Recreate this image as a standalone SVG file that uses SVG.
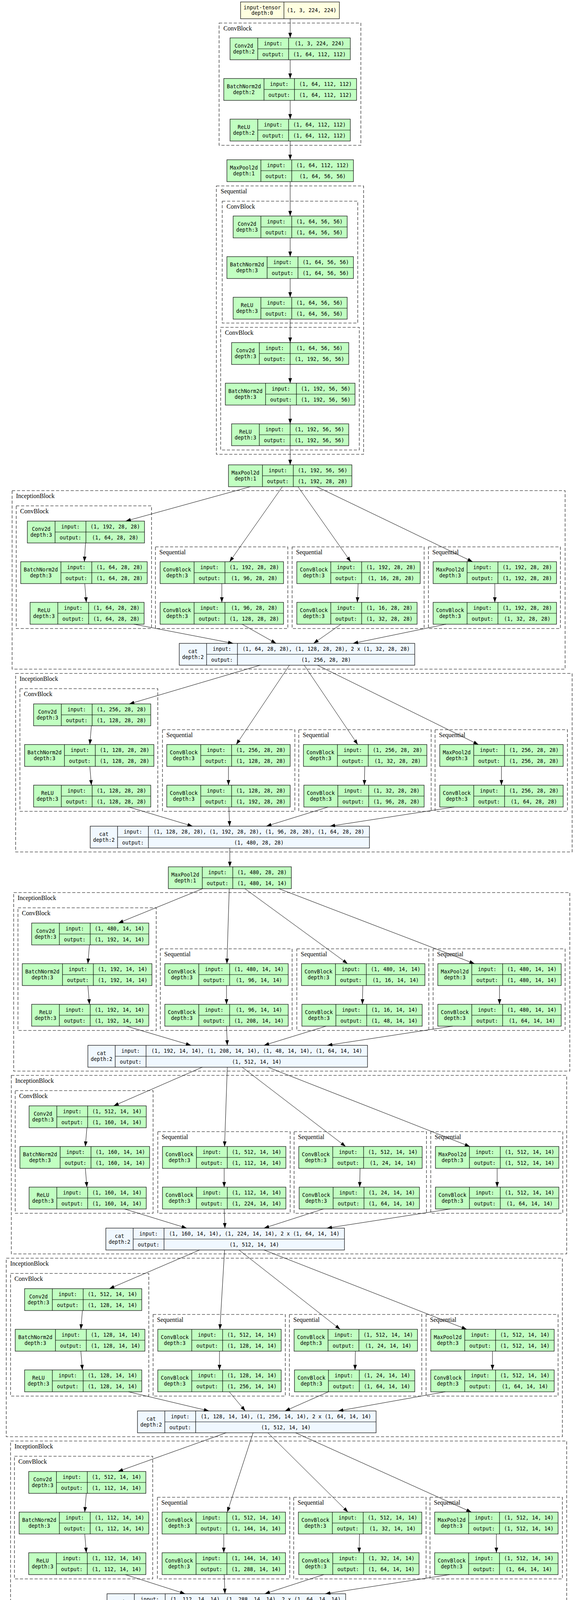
<svg xmlns="http://www.w3.org/2000/svg" width="1480" height="6145" viewBox="0 0 1480 6145">
<style>
.n rect{stroke:#000;stroke-width:1.2}
.n path{fill:none;stroke:#000;stroke-width:1.2}
.g{fill:#c1ffc1}.b{fill:#f0f8ff}.y{fill:#ffffe0}
text{font-family:"DejaVu Sans Mono","Liberation Mono",monospace;font-size:13.2px;text-anchor:middle;fill:#000}
.cl rect{fill:none;stroke:#000;stroke-width:1.1;stroke-dasharray:8 4.5}
.cl text{font-family:"Liberation Serif","Times New Roman",serif;font-size:16px;text-anchor:start}
#edges path{fill:none;stroke:#000;stroke-width:1;marker-end:url(#a)}
</style>
<defs><marker id="a" markerWidth="14" markerHeight="10" refX="13" refY="4.6" orient="auto" markerUnits="userSpaceOnUse"><path d="M0,0L13,4.6L0,9.2z" fill="#000"/></marker></defs>
<rect width="1480" height="6145" fill="#fff"/>
<g id="clusters" class="cl">
<rect x="561" y="59" width="363" height="313"/><text x="572" y="77.5">ConvBlock</text>
<rect x="554" y="476" width="377" height="687"/><text x="565" y="494.5">Sequential</text>
<rect x="569" y="515" width="347" height="312"/><text x="580" y="533.5">ConvBlock</text>
<rect x="565" y="838" width="355" height="314"/><text x="576" y="856.5">ConvBlock</text>
<rect x="31" y="1256" width="1416" height="457"/><text x="41" y="1274.5">InceptionBlock</text>
<rect x="41.5" y="1295" width="346.5" height="314"/><text x="51.5" y="1313.5">ConvBlock</text>
<rect x="398" y="1400" width="339" height="209"/><text x="408" y="1418.5">Sequential</text>
<rect x="748" y="1400" width="338" height="209"/><text x="758" y="1418.5">Sequential</text>
<rect x="1097" y="1400" width="338" height="209"/><text x="1107" y="1418.5">Sequential</text>
<rect x="40" y="1724" width="1425" height="457"/><text x="50" y="1742.5">InceptionBlock</text>
<rect x="51" y="1763" width="353" height="314"/><text x="61" y="1781.5">ConvBlock</text>
<rect x="416" y="1868" width="339" height="209"/><text x="426" y="1886.5">Sequential</text>
<rect x="765" y="1868" width="339" height="209"/><text x="775" y="1886.5">Sequential</text>
<rect x="1114" y="1868" width="339" height="209"/><text x="1124" y="1886.5">Sequential</text>
<rect x="35" y="2285" width="1424" height="457"/><text x="45" y="2303.5">InceptionBlock</text>
<rect x="46" y="2324" width="354" height="314"/><text x="56" y="2342.5">ConvBlock</text>
<rect x="410.5" y="2429" width="337.5" height="209"/><text x="420.5" y="2447.5">Sequential</text>
<rect x="760" y="2429" width="338" height="209"/><text x="770" y="2447.5">Sequential</text>
<rect x="1109" y="2429" width="338" height="209"/><text x="1119" y="2447.5">Sequential</text>
<rect x="29" y="2753" width="1422" height="457"/><text x="39" y="2771.5">InceptionBlock</text>
<rect x="39" y="2792" width="353" height="314"/><text x="49" y="2810.5">ConvBlock</text>
<rect x="404" y="2897" width="339" height="209"/><text x="414" y="2915.5">Sequential</text>
<rect x="753" y="2897" width="339" height="209"/><text x="763" y="2915.5">Sequential</text>
<rect x="1103" y="2897" width="338" height="209"/><text x="1113" y="2915.5">Sequential</text>
<rect x="16" y="3221" width="1424" height="457"/><text x="26" y="3239.5">InceptionBlock</text>
<rect x="27" y="3260" width="354" height="314"/><text x="37" y="3278.5">ConvBlock</text>
<rect x="392" y="3365" width="338.5" height="209"/><text x="402" y="3383.5">Sequential</text>
<rect x="741" y="3365" width="339" height="209"/><text x="751" y="3383.5">Sequential</text>
<rect x="1091" y="3365" width="338" height="209"/><text x="1101" y="3383.5">Sequential</text>
<rect x="27" y="3689" width="1424" height="457"/><text x="37" y="3707.5">InceptionBlock</text>
<rect x="37" y="3728" width="354" height="314"/><text x="47" y="3746.5">ConvBlock</text>
<rect x="403" y="3833" width="339" height="209"/><text x="413" y="3851.5">Sequential</text>
<rect x="752" y="3833" width="339" height="209"/><text x="762" y="3851.5">Sequential</text>
<rect x="1101" y="3833" width="339" height="209"/><text x="1111" y="3851.5">Sequential</text>
<rect x="20" y="4157" width="1424" height="457"/><text x="30" y="4175.5">InceptionBlock</text>
<rect x="31" y="4196" width="354" height="314"/><text x="41" y="4214.5">ConvBlock</text>
<rect x="396" y="4301" width="339" height="209"/><text x="406" y="4319.5">Sequential</text>
<rect x="745.5" y="4301" width="338.5" height="209"/><text x="755.5" y="4319.5">Sequential</text>
<rect x="1095" y="4301" width="338" height="209"/><text x="1105" y="4319.5">Sequential</text>
<rect x="32" y="4718" width="1359" height="457"/><text x="42" y="4736.5">InceptionBlock</text>
<rect x="42.5" y="4757" width="338.5" height="314"/><text x="52.5" y="4775.5">ConvBlock</text>
<rect x="392" y="4862" width="322.5" height="209"/><text x="402" y="4880.5">Sequential</text>
<rect x="725" y="4862" width="323" height="209"/><text x="735" y="4880.5">Sequential</text>
<rect x="1058" y="4862" width="323" height="209"/><text x="1068" y="4880.5">Sequential</text>
<rect x="21.5" y="5186" width="1361.5" height="457"/><text x="31.5" y="5204.5">InceptionBlock</text>
<rect x="34" y="5225" width="338" height="314"/><text x="44" y="5243.5">ConvBlock</text>
<rect x="383" y="5330" width="322" height="209"/><text x="393" y="5348.5">Sequential</text>
<rect x="716" y="5330" width="322" height="209"/><text x="726" y="5348.5">Sequential</text>
<rect x="1049" y="5330" width="322" height="209"/><text x="1059" y="5348.5">Sequential</text>
</g>
<g id="nodes">
<g id="input_tensor" class="n"><rect class="y" x="616" y="5" width="253" height="43"/><path d="M727 5v43"/><text x="671.5" y="23.5">input-tensor</text><text x="671.5" y="37.5">depth:0</text><text x="798" y="31">(1, 3, 224, 224)</text></g>
<g id="stem_conv1" class="n"><rect class="g" x="589" y="97" width="308" height="56"/><path d="M660 97v56M739 97v56M660 125H897"/><text x="624.5" y="121.5">Conv2d</text><text x="624.5" y="136.5">depth:2</text><text x="699.5" y="115.5">input:</text><text x="699.5" y="143.5">output:</text><text x="818" y="115.5">(1, 3, 224, 224)</text><text x="818" y="143.5">(1, 64, 112, 112)</text></g>
<g id="stem_bn1" class="n"><rect class="g" x="573" y="201" width="340" height="56"/><path d="M676 201v56M754 201v56M676 229H913"/><text x="624.5" y="225.5">BatchNorm2d</text><text x="624.5" y="240.5">depth:2</text><text x="715" y="219.5">input:</text><text x="715" y="247.5">output:</text><text x="833.5" y="219.5">(1, 64, 112, 112)</text><text x="833.5" y="247.5">(1, 64, 112, 112)</text></g>
<g id="stem_relu1" class="n"><rect class="g" x="589" y="305" width="308" height="56"/><path d="M660 305v56M739 305v56M660 333H897"/><text x="624.5" y="329.5">ReLU</text><text x="624.5" y="344.5">depth:2</text><text x="699.5" y="323.5">input:</text><text x="699.5" y="351.5">output:</text><text x="818" y="323.5">(1, 64, 112, 112)</text><text x="818" y="351.5">(1, 64, 112, 112)</text></g>
<g id="stem_pool1" class="n"><rect class="g" x="581" y="409" width="324" height="56"/><path d="M668 409v56M747 409v56M668 437H905"/><text x="624.5" y="433.5">MaxPool2d</text><text x="624.5" y="448.5">depth:1</text><text x="707.5" y="427.5">input:</text><text x="707.5" y="455.5">output:</text><text x="826" y="427.5">(1, 64, 112, 112)</text><text x="826" y="455.5">(1, 64, 56, 56)</text></g>
<g id="stem_conv2" class="n"><rect class="g" x="597" y="553" width="292" height="56"/><path d="M668 553v56M747 553v56M668 581H889"/><text x="632.5" y="577.5">Conv2d</text><text x="632.5" y="592.5">depth:3</text><text x="707.5" y="571.5">input:</text><text x="707.5" y="599.5">output:</text><text x="818" y="571.5">(1, 64, 56, 56)</text><text x="818" y="599.5">(1, 64, 56, 56)</text></g>
<g id="stem_bn2" class="n"><rect class="g" x="581" y="657" width="324" height="56"/><path d="M684 657v56M763 657v56M684 685H905"/><text x="632.5" y="681.5">BatchNorm2d</text><text x="632.5" y="696.5">depth:3</text><text x="723.5" y="675.5">input:</text><text x="723.5" y="703.5">output:</text><text x="834" y="675.5">(1, 64, 56, 56)</text><text x="834" y="703.5">(1, 64, 56, 56)</text></g>
<g id="stem_relu2" class="n"><rect class="g" x="597" y="761" width="292" height="56"/><path d="M668 761v56M747 761v56M668 789H889"/><text x="632.5" y="785.5">ReLU</text><text x="632.5" y="800.5">depth:3</text><text x="707.5" y="779.5">input:</text><text x="707.5" y="807.5">output:</text><text x="818" y="779.5">(1, 64, 56, 56)</text><text x="818" y="807.5">(1, 64, 56, 56)</text></g>
<g id="stem_conv3" class="n"><rect class="g" x="593" y="877" width="300" height="56"/><path d="M664 877v56M743 877v56M664 905H893"/><text x="628.5" y="901.5">Conv2d</text><text x="628.5" y="916.5">depth:3</text><text x="703.5" y="895.5">input:</text><text x="703.5" y="923.5">output:</text><text x="818" y="895.5">(1, 64, 56, 56)</text><text x="818" y="923.5">(1, 192, 56, 56)</text></g>
<g id="stem_bn3" class="n"><rect class="g" x="577" y="981" width="332" height="56"/><path d="M680 981v56M759 981v56M680 1009H909"/><text x="628.5" y="1005.5">BatchNorm2d</text><text x="628.5" y="1020.5">depth:3</text><text x="719.5" y="999.5">input:</text><text x="719.5" y="1027.5">output:</text><text x="834" y="999.5">(1, 192, 56, 56)</text><text x="834" y="1027.5">(1, 192, 56, 56)</text></g>
<g id="stem_relu3" class="n"><rect class="g" x="593" y="1085" width="300" height="56"/><path d="M664 1085v56M743 1085v56M664 1113H893"/><text x="628.5" y="1109.5">ReLU</text><text x="628.5" y="1124.5">depth:3</text><text x="703.5" y="1103.5">input:</text><text x="703.5" y="1131.5">output:</text><text x="818" y="1103.5">(1, 192, 56, 56)</text><text x="818" y="1131.5">(1, 192, 56, 56)</text></g>
<g id="stem_pool2" class="n"><rect class="g" x="585" y="1190" width="316" height="56"/><path d="M672 1190v56M751 1190v56M672 1218H901"/><text x="628.5" y="1214.5">MaxPool2d</text><text x="628.5" y="1229.5">depth:1</text><text x="711.5" y="1208.5">input:</text><text x="711.5" y="1236.5">output:</text><text x="826" y="1208.5">(1, 192, 56, 56)</text><text x="826" y="1236.5">(1, 192, 28, 28)</text></g>

<g id="i3a_conv" class="n"><rect class="g" x="70" y="1334" width="300" height="56"/><path d="M141 1334v56M220 1334v56M141 1362H370"/><text x="105.5" y="1358.5">Conv2d</text><text x="105.5" y="1373.5">depth:3</text><text x="180.5" y="1352.5">input:</text><text x="180.5" y="1380.5">output:</text><text x="295" y="1352.5">(1, 192, 28, 28)</text><text x="295" y="1380.5">(1, 64, 28, 28)</text></g>
<g id="i3a_bn" class="n"><rect class="g" x="53" y="1438" width="324" height="56"/><path d="M156 1438v56M235 1438v56M156 1466H377"/><text x="104.5" y="1462.5">BatchNorm2d</text><text x="104.5" y="1477.5">depth:3</text><text x="195.5" y="1456.5">input:</text><text x="195.5" y="1484.5">output:</text><text x="306" y="1456.5">(1, 64, 28, 28)</text><text x="306" y="1484.5">(1, 64, 28, 28)</text></g>
<g id="i3a_relu" class="n"><rect class="g" x="77" y="1542" width="292" height="56"/><path d="M148 1542v56M227 1542v56M148 1570H369"/><text x="112.5" y="1566.5">ReLU</text><text x="112.5" y="1581.5">depth:3</text><text x="187.5" y="1560.5">input:</text><text x="187.5" y="1588.5">output:</text><text x="298" y="1560.5">(1, 64, 28, 28)</text><text x="298" y="1588.5">(1, 64, 28, 28)</text></g>
<g id="i3a_b2a" class="n"><rect class="g" x="410" y="1438" width="316" height="56"/><path d="M497 1438v56M576 1438v56M497 1466H726"/><text x="453.5" y="1462.5">ConvBlock</text><text x="453.5" y="1477.5">depth:3</text><text x="536.5" y="1456.5">input:</text><text x="536.5" y="1484.5">output:</text><text x="651" y="1456.5">(1, 192, 28, 28)</text><text x="651" y="1484.5">(1, 96, 28, 28)</text></g>
<g id="i3a_b2b" class="n"><rect class="g" x="410" y="1542" width="316" height="56"/><path d="M497 1542v56M576 1542v56M497 1570H726"/><text x="453.5" y="1566.5">ConvBlock</text><text x="453.5" y="1581.5">depth:3</text><text x="536.5" y="1560.5">input:</text><text x="536.5" y="1588.5">output:</text><text x="651" y="1560.5">(1, 96, 28, 28)</text><text x="651" y="1588.5">(1, 128, 28, 28)</text></g>
<g id="i3a_b3a" class="n"><rect class="g" x="760" y="1438" width="316" height="56"/><path d="M847 1438v56M926 1438v56M847 1466H1076"/><text x="803.5" y="1462.5">ConvBlock</text><text x="803.5" y="1477.5">depth:3</text><text x="886.5" y="1456.5">input:</text><text x="886.5" y="1484.5">output:</text><text x="1001" y="1456.5">(1, 192, 28, 28)</text><text x="1001" y="1484.5">(1, 16, 28, 28)</text></g>
<g id="i3a_b3b" class="n"><rect class="g" x="760" y="1542" width="308" height="56"/><path d="M847 1542v56M926 1542v56M847 1570H1068"/><text x="803.5" y="1566.5">ConvBlock</text><text x="803.5" y="1581.5">depth:3</text><text x="886.5" y="1560.5">input:</text><text x="886.5" y="1588.5">output:</text><text x="997" y="1560.5">(1, 16, 28, 28)</text><text x="997" y="1588.5">(1, 32, 28, 28)</text></g>
<g id="i3a_b4a" class="n"><rect class="g" x="1109" y="1438" width="316" height="56"/><path d="M1196 1438v56M1275 1438v56M1196 1466H1425"/><text x="1152.5" y="1462.5">MaxPool2d</text><text x="1152.5" y="1477.5">depth:3</text><text x="1235.5" y="1456.5">input:</text><text x="1235.5" y="1484.5">output:</text><text x="1350" y="1456.5">(1, 192, 28, 28)</text><text x="1350" y="1484.5">(1, 192, 28, 28)</text></g>
<g id="i3a_b4b" class="n"><rect class="g" x="1109" y="1542" width="316" height="56"/><path d="M1196 1542v56M1275 1542v56M1196 1570H1425"/><text x="1152.5" y="1566.5">ConvBlock</text><text x="1152.5" y="1581.5">depth:3</text><text x="1235.5" y="1560.5">input:</text><text x="1235.5" y="1588.5">output:</text><text x="1350" y="1560.5">(1, 192, 28, 28)</text><text x="1350" y="1588.5">(1, 32, 28, 28)</text></g>
<g id="i3a_cat" class="n"><rect class="b" x="459" y="1647" width="603" height="56"/><path d="M529 1647v56M608 1647v56M529 1675H1062"/><text x="494" y="1671.5">cat</text><text x="494" y="1686.5">depth:2</text><text x="568.5" y="1665.5">input:</text><text x="568.5" y="1693.5">output:</text><text x="835" y="1665.5">(1, 64, 28, 28), (1, 128, 28, 28), 2 x (1, 32, 28, 28)</text><text x="835" y="1693.5">(1, 256, 28, 28)</text></g>

<g id="i3b_conv" class="n"><rect class="g" x="86" y="1802" width="300" height="56"/><path d="M157 1802v56M236 1802v56M157 1830H386"/><text x="121.5" y="1826.5">Conv2d</text><text x="121.5" y="1841.5">depth:3</text><text x="196.5" y="1820.5">input:</text><text x="196.5" y="1848.5">output:</text><text x="311" y="1820.5">(1, 256, 28, 28)</text><text x="311" y="1848.5">(1, 128, 28, 28)</text></g>
<g id="i3b_bn" class="n"><rect class="g" x="63" y="1906" width="331" height="56"/><path d="M165 1906v56M244 1906v56M165 1934H394"/><text x="114" y="1930.5">BatchNorm2d</text><text x="114" y="1945.5">depth:3</text><text x="204.5" y="1924.5">input:</text><text x="204.5" y="1952.5">output:</text><text x="319" y="1924.5">(1, 128, 28, 28)</text><text x="319" y="1952.5">(1, 128, 28, 28)</text></g>
<g id="i3b_relu" class="n"><rect class="g" x="86" y="2010" width="300" height="56"/><path d="M157 2010v56M236 2010v56M157 2038H386"/><text x="121.5" y="2034.5">ReLU</text><text x="121.5" y="2049.5">depth:3</text><text x="196.5" y="2028.5">input:</text><text x="196.5" y="2056.5">output:</text><text x="311" y="2028.5">(1, 128, 28, 28)</text><text x="311" y="2056.5">(1, 128, 28, 28)</text></g>
<g id="i3b_b2a" class="n"><rect class="g" x="427" y="1906" width="316" height="56"/><path d="M514 1906v56M593 1906v56M514 1934H743"/><text x="470.5" y="1930.5">ConvBlock</text><text x="470.5" y="1945.5">depth:3</text><text x="553.5" y="1924.5">input:</text><text x="553.5" y="1952.5">output:</text><text x="668" y="1924.5">(1, 256, 28, 28)</text><text x="668" y="1952.5">(1, 128, 28, 28)</text></g>
<g id="i3b_b2b" class="n"><rect class="g" x="427" y="2010" width="316" height="56"/><path d="M514 2010v56M593 2010v56M514 2038H743"/><text x="470.5" y="2034.5">ConvBlock</text><text x="470.5" y="2049.5">depth:3</text><text x="553.5" y="2028.5">input:</text><text x="553.5" y="2056.5">output:</text><text x="668" y="2028.5">(1, 128, 28, 28)</text><text x="668" y="2056.5">(1, 192, 28, 28)</text></g>
<g id="i3b_b3a" class="n"><rect class="g" x="777" y="1906" width="316" height="56"/><path d="M864 1906v56M943 1906v56M864 1934H1093"/><text x="820.5" y="1930.5">ConvBlock</text><text x="820.5" y="1945.5">depth:3</text><text x="903.5" y="1924.5">input:</text><text x="903.5" y="1952.5">output:</text><text x="1018" y="1924.5">(1, 256, 28, 28)</text><text x="1018" y="1952.5">(1, 32, 28, 28)</text></g>
<g id="i3b_b3b" class="n"><rect class="g" x="778" y="2010" width="308" height="56"/><path d="M865 2010v56M944 2010v56M865 2038H1086"/><text x="821.5" y="2034.5">ConvBlock</text><text x="821.5" y="2049.5">depth:3</text><text x="904.5" y="2028.5">input:</text><text x="904.5" y="2056.5">output:</text><text x="1015" y="2028.5">(1, 32, 28, 28)</text><text x="1015" y="2056.5">(1, 96, 28, 28)</text></g>
<g id="i3b_b4a" class="n"><rect class="g" x="1126" y="1906" width="316" height="56"/><path d="M1213 1906v56M1292 1906v56M1213 1934H1442"/><text x="1169.5" y="1930.5">MaxPool2d</text><text x="1169.5" y="1945.5">depth:3</text><text x="1252.5" y="1924.5">input:</text><text x="1252.5" y="1952.5">output:</text><text x="1367" y="1924.5">(1, 256, 28, 28)</text><text x="1367" y="1952.5">(1, 256, 28, 28)</text></g>
<g id="i3b_b4b" class="n"><rect class="g" x="1126" y="2010" width="316" height="56"/><path d="M1213 2010v56M1292 2010v56M1213 2038H1442"/><text x="1169.5" y="2034.5">ConvBlock</text><text x="1169.5" y="2049.5">depth:3</text><text x="1252.5" y="2028.5">input:</text><text x="1252.5" y="2056.5">output:</text><text x="1367" y="2028.5">(1, 256, 28, 28)</text><text x="1367" y="2056.5">(1, 64, 28, 28)</text></g>
<g id="i3b_cat" class="n"><rect class="b" x="231" y="2115" width="715" height="56"/><path d="M301 2115v56M380 2115v56M301 2143H946"/><text x="266" y="2139.5">cat</text><text x="266" y="2154.5">depth:2</text><text x="340.5" y="2133.5">input:</text><text x="340.5" y="2161.5">output:</text><text x="663" y="2133.5">(1, 128, 28, 28), (1, 192, 28, 28), (1, 96, 28, 28), (1, 64, 28, 28)</text><text x="663" y="2161.5">(1, 480, 28, 28)</text></g>
<g id="pool3" class="n"><rect class="g" x="431" y="2219" width="315" height="56"/><path d="M518 2219v56M596 2219v56M518 2247H746"/><text x="474.5" y="2243.5">MaxPool2d</text><text x="474.5" y="2258.5">depth:1</text><text x="557" y="2237.5">input:</text><text x="557" y="2265.5">output:</text><text x="671" y="2237.5">(1, 480, 28, 28)</text><text x="671" y="2265.5">(1, 480, 14, 14)</text></g>

<g id="i4a_conv" class="n"><rect class="g" x="81" y="2363" width="300" height="56"/><path d="M152 2363v56M231 2363v56M152 2391H381"/><text x="116.5" y="2387.5">Conv2d</text><text x="116.5" y="2402.5">depth:3</text><text x="191.5" y="2381.5">input:</text><text x="191.5" y="2409.5">output:</text><text x="306" y="2381.5">(1, 480, 14, 14)</text><text x="306" y="2409.5">(1, 192, 14, 14)</text></g>
<g id="i4a_bn" class="n"><rect class="g" x="57" y="2467" width="332" height="56"/><path d="M160 2467v56M239 2467v56M160 2495H389"/><text x="108.5" y="2491.5">BatchNorm2d</text><text x="108.5" y="2506.5">depth:3</text><text x="199.5" y="2485.5">input:</text><text x="199.5" y="2513.5">output:</text><text x="314" y="2485.5">(1, 192, 14, 14)</text><text x="314" y="2513.5">(1, 192, 14, 14)</text></g>
<g id="i4a_relu" class="n"><rect class="g" x="81" y="2571" width="300" height="56"/><path d="M152 2571v56M231 2571v56M152 2599H381"/><text x="116.5" y="2595.5">ReLU</text><text x="116.5" y="2610.5">depth:3</text><text x="191.5" y="2589.5">input:</text><text x="191.5" y="2617.5">output:</text><text x="306" y="2589.5">(1, 192, 14, 14)</text><text x="306" y="2617.5">(1, 192, 14, 14)</text></g>
<g id="i4a_b2a" class="n"><rect class="g" x="422" y="2467" width="316" height="56"/><path d="M509 2467v56M588 2467v56M509 2495H738"/><text x="465.5" y="2491.5">ConvBlock</text><text x="465.5" y="2506.5">depth:3</text><text x="548.5" y="2485.5">input:</text><text x="548.5" y="2513.5">output:</text><text x="663" y="2485.5">(1, 480, 14, 14)</text><text x="663" y="2513.5">(1, 96, 14, 14)</text></g>
<g id="i4a_b2b" class="n"><rect class="g" x="422" y="2571" width="316" height="56"/><path d="M509 2571v56M588 2571v56M509 2599H738"/><text x="465.5" y="2595.5">ConvBlock</text><text x="465.5" y="2610.5">depth:3</text><text x="548.5" y="2589.5">input:</text><text x="548.5" y="2617.5">output:</text><text x="663" y="2589.5">(1, 96, 14, 14)</text><text x="663" y="2617.5">(1, 208, 14, 14)</text></g>
<g id="i4a_b3a" class="n"><rect class="g" x="772" y="2467" width="316" height="56"/><path d="M859 2467v56M938 2467v56M859 2495H1088"/><text x="815.5" y="2491.5">ConvBlock</text><text x="815.5" y="2506.5">depth:3</text><text x="898.5" y="2485.5">input:</text><text x="898.5" y="2513.5">output:</text><text x="1013" y="2485.5">(1, 480, 14, 14)</text><text x="1013" y="2513.5">(1, 16, 14, 14)</text></g>
<g id="i4a_b3b" class="n"><rect class="g" x="773" y="2571" width="308" height="56"/><path d="M860 2571v56M939 2571v56M860 2599H1081"/><text x="816.5" y="2595.5">ConvBlock</text><text x="816.5" y="2610.5">depth:3</text><text x="899.5" y="2589.5">input:</text><text x="899.5" y="2617.5">output:</text><text x="1010" y="2589.5">(1, 16, 14, 14)</text><text x="1010" y="2617.5">(1, 48, 14, 14)</text></g>
<g id="i4a_b4a" class="n"><rect class="g" x="1121" y="2467" width="316" height="56"/><path d="M1208 2467v56M1287 2467v56M1208 2495H1437"/><text x="1164.5" y="2491.5">MaxPool2d</text><text x="1164.5" y="2506.5">depth:3</text><text x="1247.5" y="2485.5">input:</text><text x="1247.5" y="2513.5">output:</text><text x="1362" y="2485.5">(1, 480, 14, 14)</text><text x="1362" y="2513.5">(1, 480, 14, 14)</text></g>
<g id="i4a_b4b" class="n"><rect class="g" x="1121" y="2571" width="316" height="56"/><path d="M1208 2571v56M1287 2571v56M1208 2599H1437"/><text x="1164.5" y="2595.5">ConvBlock</text><text x="1164.5" y="2610.5">depth:3</text><text x="1247.5" y="2589.5">input:</text><text x="1247.5" y="2617.5">output:</text><text x="1362" y="2589.5">(1, 480, 14, 14)</text><text x="1362" y="2617.5">(1, 64, 14, 14)</text></g>
<g id="i4a_cat" class="n"><rect class="b" x="225" y="2676" width="716" height="56"/><path d="M295 2676v56M374 2676v56M295 2704H941"/><text x="260" y="2700.5">cat</text><text x="260" y="2715.5">depth:2</text><text x="334.5" y="2694.5">input:</text><text x="334.5" y="2722.5">output:</text><text x="657.5" y="2694.5">(1, 192, 14, 14), (1, 208, 14, 14), (1, 48, 14, 14), (1, 64, 14, 14)</text><text x="657.5" y="2722.5">(1, 512, 14, 14)</text></g>

<g id="i4b_conv" class="n"><rect class="g" x="74.5" y="2831" width="300" height="56"/><path d="M145.5 2831v56M224.5 2831v56M145.5 2859H374.5"/><text x="110" y="2855.5">Conv2d</text><text x="110" y="2870.5">depth:3</text><text x="185" y="2849.5">input:</text><text x="185" y="2877.5">output:</text><text x="299.5" y="2849.5">(1, 512, 14, 14)</text><text x="299.5" y="2877.5">(1, 160, 14, 14)</text></g>
<g id="i4b_bn" class="n"><rect class="g" x="51" y="2935" width="332" height="56"/><path d="M154 2935v56M233 2935v56M154 2963H383"/><text x="102.5" y="2959.5">BatchNorm2d</text><text x="102.5" y="2974.5">depth:3</text><text x="193.5" y="2953.5">input:</text><text x="193.5" y="2981.5">output:</text><text x="308" y="2953.5">(1, 160, 14, 14)</text><text x="308" y="2981.5">(1, 160, 14, 14)</text></g>
<g id="i4b_relu" class="n"><rect class="g" x="74.5" y="3039" width="300" height="56"/><path d="M145.5 3039v56M224.5 3039v56M145.5 3067H374.5"/><text x="110" y="3063.5">ReLU</text><text x="110" y="3078.5">depth:3</text><text x="185" y="3057.5">input:</text><text x="185" y="3085.5">output:</text><text x="299.5" y="3057.5">(1, 160, 14, 14)</text><text x="299.5" y="3085.5">(1, 160, 14, 14)</text></g>
<g id="i4b_b2a" class="n"><rect class="g" x="416" y="2935" width="316" height="56"/><path d="M503 2935v56M582 2935v56M503 2963H732"/><text x="459.5" y="2959.5">ConvBlock</text><text x="459.5" y="2974.5">depth:3</text><text x="542.5" y="2953.5">input:</text><text x="542.5" y="2981.5">output:</text><text x="657" y="2953.5">(1, 512, 14, 14)</text><text x="657" y="2981.5">(1, 112, 14, 14)</text></g>
<g id="i4b_b2b" class="n"><rect class="g" x="416" y="3039" width="316" height="56"/><path d="M503 3039v56M582 3039v56M503 3067H732"/><text x="459.5" y="3063.5">ConvBlock</text><text x="459.5" y="3078.5">depth:3</text><text x="542.5" y="3057.5">input:</text><text x="542.5" y="3085.5">output:</text><text x="657" y="3057.5">(1, 112, 14, 14)</text><text x="657" y="3085.5">(1, 224, 14, 14)</text></g>
<g id="i4b_b3a" class="n"><rect class="g" x="765" y="2935" width="316" height="56"/><path d="M852 2935v56M931 2935v56M852 2963H1081"/><text x="808.5" y="2959.5">ConvBlock</text><text x="808.5" y="2974.5">depth:3</text><text x="891.5" y="2953.5">input:</text><text x="891.5" y="2981.5">output:</text><text x="1006" y="2953.5">(1, 512, 14, 14)</text><text x="1006" y="2981.5">(1, 24, 14, 14)</text></g>
<g id="i4b_b3b" class="n"><rect class="g" x="766" y="3039" width="308" height="56"/><path d="M853 3039v56M932 3039v56M853 3067H1074"/><text x="809.5" y="3063.5">ConvBlock</text><text x="809.5" y="3078.5">depth:3</text><text x="892.5" y="3057.5">input:</text><text x="892.5" y="3085.5">output:</text><text x="1003" y="3057.5">(1, 24, 14, 14)</text><text x="1003" y="3085.5">(1, 64, 14, 14)</text></g>
<g id="i4b_b4a" class="n"><rect class="g" x="1115" y="2935" width="316" height="56"/><path d="M1202 2935v56M1281 2935v56M1202 2963H1431"/><text x="1158.5" y="2959.5">MaxPool2d</text><text x="1158.5" y="2974.5">depth:3</text><text x="1241.5" y="2953.5">input:</text><text x="1241.5" y="2981.5">output:</text><text x="1356" y="2953.5">(1, 512, 14, 14)</text><text x="1356" y="2981.5">(1, 512, 14, 14)</text></g>
<g id="i4b_b4b" class="n"><rect class="g" x="1115" y="3039" width="316" height="56"/><path d="M1202 3039v56M1281 3039v56M1202 3067H1431"/><text x="1158.5" y="3063.5">ConvBlock</text><text x="1158.5" y="3078.5">depth:3</text><text x="1241.5" y="3057.5">input:</text><text x="1241.5" y="3085.5">output:</text><text x="1356" y="3057.5">(1, 512, 14, 14)</text><text x="1356" y="3085.5">(1, 64, 14, 14)</text></g>
<g id="i4b_cat" class="n"><rect class="b" x="271" y="3144" width="611" height="56"/><path d="M341 3144v56M420 3144v56M341 3172H882"/><text x="306" y="3168.5">cat</text><text x="306" y="3183.5">depth:2</text><text x="380.5" y="3162.5">input:</text><text x="380.5" y="3190.5">output:</text><text x="651" y="3162.5">(1, 160, 14, 14), (1, 224, 14, 14), 2 x (1, 64, 14, 14)</text><text x="651" y="3190.5">(1, 512, 14, 14)</text></g>

<g id="i4c_conv" class="n"><rect class="g" x="63" y="3299" width="300" height="56"/><path d="M134 3299v56M213 3299v56M134 3327H363"/><text x="98.5" y="3323.5">Conv2d</text><text x="98.5" y="3338.5">depth:3</text><text x="173.5" y="3317.5">input:</text><text x="173.5" y="3345.5">output:</text><text x="288" y="3317.5">(1, 512, 14, 14)</text><text x="288" y="3345.5">(1, 128, 14, 14)</text></g>
<g id="i4c_bn" class="n"><rect class="g" x="39" y="3403" width="332" height="56"/><path d="M142 3403v56M221 3403v56M142 3431H371"/><text x="90.5" y="3427.5">BatchNorm2d</text><text x="90.5" y="3442.5">depth:3</text><text x="181.5" y="3421.5">input:</text><text x="181.5" y="3449.5">output:</text><text x="296" y="3421.5">(1, 128, 14, 14)</text><text x="296" y="3449.5">(1, 128, 14, 14)</text></g>
<g id="i4c_relu" class="n"><rect class="g" x="63" y="3507" width="300" height="56"/><path d="M134 3507v56M213 3507v56M134 3535H363"/><text x="98.5" y="3531.5">ReLU</text><text x="98.5" y="3546.5">depth:3</text><text x="173.5" y="3525.5">input:</text><text x="173.5" y="3553.5">output:</text><text x="288" y="3525.5">(1, 128, 14, 14)</text><text x="288" y="3553.5">(1, 128, 14, 14)</text></g>
<g id="i4c_b2a" class="n"><rect class="g" x="404" y="3403" width="316" height="56"/><path d="M491 3403v56M570 3403v56M491 3431H720"/><text x="447.5" y="3427.5">ConvBlock</text><text x="447.5" y="3442.5">depth:3</text><text x="530.5" y="3421.5">input:</text><text x="530.5" y="3449.5">output:</text><text x="645" y="3421.5">(1, 512, 14, 14)</text><text x="645" y="3449.5">(1, 128, 14, 14)</text></g>
<g id="i4c_b2b" class="n"><rect class="g" x="404" y="3507" width="316" height="56"/><path d="M491 3507v56M570 3507v56M491 3535H720"/><text x="447.5" y="3531.5">ConvBlock</text><text x="447.5" y="3546.5">depth:3</text><text x="530.5" y="3525.5">input:</text><text x="530.5" y="3553.5">output:</text><text x="645" y="3525.5">(1, 128, 14, 14)</text><text x="645" y="3553.5">(1, 256, 14, 14)</text></g>
<g id="i4c_b3a" class="n"><rect class="g" x="753" y="3403" width="316" height="56"/><path d="M840 3403v56M919 3403v56M840 3431H1069"/><text x="796.5" y="3427.5">ConvBlock</text><text x="796.5" y="3442.5">depth:3</text><text x="879.5" y="3421.5">input:</text><text x="879.5" y="3449.5">output:</text><text x="994" y="3421.5">(1, 512, 14, 14)</text><text x="994" y="3449.5">(1, 24, 14, 14)</text></g>
<g id="i4c_b3b" class="n"><rect class="g" x="754" y="3507" width="308" height="56"/><path d="M841 3507v56M920 3507v56M841 3535H1062"/><text x="797.5" y="3531.5">ConvBlock</text><text x="797.5" y="3546.5">depth:3</text><text x="880.5" y="3525.5">input:</text><text x="880.5" y="3553.5">output:</text><text x="991" y="3525.5">(1, 24, 14, 14)</text><text x="991" y="3553.5">(1, 64, 14, 14)</text></g>
<g id="i4c_b4a" class="n"><rect class="g" x="1103" y="3403" width="316" height="56"/><path d="M1190 3403v56M1269 3403v56M1190 3431H1419"/><text x="1146.5" y="3427.5">MaxPool2d</text><text x="1146.5" y="3442.5">depth:3</text><text x="1229.5" y="3421.5">input:</text><text x="1229.5" y="3449.5">output:</text><text x="1344" y="3421.5">(1, 512, 14, 14)</text><text x="1344" y="3449.5">(1, 512, 14, 14)</text></g>
<g id="i4c_b4b" class="n"><rect class="g" x="1103" y="3507" width="316" height="56"/><path d="M1190 3507v56M1269 3507v56M1190 3535H1419"/><text x="1146.5" y="3531.5">ConvBlock</text><text x="1146.5" y="3546.5">depth:3</text><text x="1229.5" y="3525.5">input:</text><text x="1229.5" y="3553.5">output:</text><text x="1344" y="3525.5">(1, 512, 14, 14)</text><text x="1344" y="3553.5">(1, 64, 14, 14)</text></g>
<g id="i4c_cat" class="n"><rect class="b" x="352" y="3612" width="611" height="56"/><path d="M422 3612v56M501 3612v56M422 3640H963"/><text x="387" y="3636.5">cat</text><text x="387" y="3651.5">depth:2</text><text x="461.5" y="3630.5">input:</text><text x="461.5" y="3658.5">output:</text><text x="732" y="3630.5">(1, 128, 14, 14), (1, 256, 14, 14), 2 x (1, 64, 14, 14)</text><text x="732" y="3658.5">(1, 512, 14, 14)</text></g>

<g id="i4d_conv" class="n"><rect class="g" x="73.5" y="3767" width="300" height="56"/><path d="M144.5 3767v56M223.5 3767v56M144.5 3795H373.5"/><text x="109" y="3791.5">Conv2d</text><text x="109" y="3806.5">depth:3</text><text x="184" y="3785.5">input:</text><text x="184" y="3813.5">output:</text><text x="298.5" y="3785.5">(1, 512, 14, 14)</text><text x="298.5" y="3813.5">(1, 112, 14, 14)</text></g>
<g id="i4d_bn" class="n"><rect class="g" x="49" y="3871" width="332" height="56"/><path d="M152 3871v56M231 3871v56M152 3899H381"/><text x="100.5" y="3895.5">BatchNorm2d</text><text x="100.5" y="3910.5">depth:3</text><text x="191.5" y="3889.5">input:</text><text x="191.5" y="3917.5">output:</text><text x="306" y="3889.5">(1, 112, 14, 14)</text><text x="306" y="3917.5">(1, 112, 14, 14)</text></g>
<g id="i4d_relu" class="n"><rect class="g" x="73.5" y="3975" width="300" height="56"/><path d="M144.5 3975v56M223.5 3975v56M144.5 4003H373.5"/><text x="109" y="3999.5">ReLU</text><text x="109" y="4014.5">depth:3</text><text x="184" y="3993.5">input:</text><text x="184" y="4021.5">output:</text><text x="298.5" y="3993.5">(1, 112, 14, 14)</text><text x="298.5" y="4021.5">(1, 112, 14, 14)</text></g>
<g id="i4d_b2a" class="n"><rect class="g" x="415" y="3871" width="316" height="56"/><path d="M502 3871v56M581 3871v56M502 3899H731"/><text x="458.5" y="3895.5">ConvBlock</text><text x="458.5" y="3910.5">depth:3</text><text x="541.5" y="3889.5">input:</text><text x="541.5" y="3917.5">output:</text><text x="656" y="3889.5">(1, 512, 14, 14)</text><text x="656" y="3917.5">(1, 144, 14, 14)</text></g>
<g id="i4d_b2b" class="n"><rect class="g" x="415" y="3975" width="316" height="56"/><path d="M502 3975v56M581 3975v56M502 4003H731"/><text x="458.5" y="3999.5">ConvBlock</text><text x="458.5" y="4014.5">depth:3</text><text x="541.5" y="3993.5">input:</text><text x="541.5" y="4021.5">output:</text><text x="656" y="3993.5">(1, 144, 14, 14)</text><text x="656" y="4021.5">(1, 288, 14, 14)</text></g>
<g id="i4d_b3a" class="n"><rect class="g" x="764" y="3871" width="316" height="56"/><path d="M851 3871v56M930 3871v56M851 3899H1080"/><text x="807.5" y="3895.5">ConvBlock</text><text x="807.5" y="3910.5">depth:3</text><text x="890.5" y="3889.5">input:</text><text x="890.5" y="3917.5">output:</text><text x="1005" y="3889.5">(1, 512, 14, 14)</text><text x="1005" y="3917.5">(1, 32, 14, 14)</text></g>
<g id="i4d_b3b" class="n"><rect class="g" x="765" y="3975" width="308" height="56"/><path d="M852 3975v56M931 3975v56M852 4003H1073"/><text x="808.5" y="3999.5">ConvBlock</text><text x="808.5" y="4014.5">depth:3</text><text x="891.5" y="3993.5">input:</text><text x="891.5" y="4021.5">output:</text><text x="1002" y="3993.5">(1, 32, 14, 14)</text><text x="1002" y="4021.5">(1, 64, 14, 14)</text></g>
<g id="i4d_b4a" class="n"><rect class="g" x="1113" y="3871" width="316" height="56"/><path d="M1200 3871v56M1279 3871v56M1200 3899H1429"/><text x="1156.5" y="3895.5">MaxPool2d</text><text x="1156.5" y="3910.5">depth:3</text><text x="1239.5" y="3889.5">input:</text><text x="1239.5" y="3917.5">output:</text><text x="1354" y="3889.5">(1, 512, 14, 14)</text><text x="1354" y="3917.5">(1, 512, 14, 14)</text></g>
<g id="i4d_b4b" class="n"><rect class="g" x="1113" y="3975" width="316" height="56"/><path d="M1200 3975v56M1279 3975v56M1200 4003H1429"/><text x="1156.5" y="3999.5">ConvBlock</text><text x="1156.5" y="4014.5">depth:3</text><text x="1239.5" y="3993.5">input:</text><text x="1239.5" y="4021.5">output:</text><text x="1354" y="3993.5">(1, 512, 14, 14)</text><text x="1354" y="4021.5">(1, 64, 14, 14)</text></g>
<g id="i4d_cat" class="n"><rect class="b" x="274" y="4080" width="611" height="56"/><path d="M344 4080v56M423 4080v56M344 4108H885"/><text x="309" y="4104.5">cat</text><text x="309" y="4119.5">depth:2</text><text x="383.5" y="4098.5">input:</text><text x="383.5" y="4126.5">output:</text><text x="654" y="4098.5">(1, 112, 14, 14), (1, 288, 14, 14), 2 x (1, 64, 14, 14)</text><text x="654" y="4126.5">(1, 528, 14, 14)</text></g>

<g id="i4e_conv" class="n"><rect class="g" x="67" y="4235" width="300" height="56"/><path d="M138 4235v56M217 4235v56M138 4263H367"/><text x="102.5" y="4259.5">Conv2d</text><text x="102.5" y="4274.5">depth:3</text><text x="177.5" y="4253.5">input:</text><text x="177.5" y="4281.5">output:</text><text x="292" y="4253.5">(1, 528, 14, 14)</text><text x="292" y="4281.5">(1, 256, 14, 14)</text></g>
<g id="i4e_bn" class="n"><rect class="g" x="42.5" y="4339" width="332" height="56"/><path d="M145.5 4339v56M224.5 4339v56M145.5 4367H374.5"/><text x="94" y="4363.5">BatchNorm2d</text><text x="94" y="4378.5">depth:3</text><text x="185" y="4357.5">input:</text><text x="185" y="4385.5">output:</text><text x="299.5" y="4357.5">(1, 256, 14, 14)</text><text x="299.5" y="4385.5">(1, 256, 14, 14)</text></g>
<g id="i4e_relu" class="n"><rect class="g" x="67" y="4443" width="300" height="56"/><path d="M138 4443v56M217 4443v56M138 4471H367"/><text x="102.5" y="4467.5">ReLU</text><text x="102.5" y="4482.5">depth:3</text><text x="177.5" y="4461.5">input:</text><text x="177.5" y="4489.5">output:</text><text x="292" y="4461.5">(1, 256, 14, 14)</text><text x="292" y="4489.5">(1, 256, 14, 14)</text></g>
<g id="i4e_b2a" class="n"><rect class="g" x="408" y="4339" width="316" height="56"/><path d="M495 4339v56M574 4339v56M495 4367H724"/><text x="451.5" y="4363.5">ConvBlock</text><text x="451.5" y="4378.5">depth:3</text><text x="534.5" y="4357.5">input:</text><text x="534.5" y="4385.5">output:</text><text x="649" y="4357.5">(1, 528, 14, 14)</text><text x="649" y="4385.5">(1, 160, 14, 14)</text></g>
<g id="i4e_b2b" class="n"><rect class="g" x="408" y="4443" width="316" height="56"/><path d="M495 4443v56M574 4443v56M495 4471H724"/><text x="451.5" y="4467.5">ConvBlock</text><text x="451.5" y="4482.5">depth:3</text><text x="534.5" y="4461.5">input:</text><text x="534.5" y="4489.5">output:</text><text x="649" y="4461.5">(1, 160, 14, 14)</text><text x="649" y="4489.5">(1, 320, 14, 14)</text></g>
<g id="i4e_b3a" class="n"><rect class="g" x="757" y="4339" width="316" height="56"/><path d="M844 4339v56M923 4339v56M844 4367H1073"/><text x="800.5" y="4363.5">ConvBlock</text><text x="800.5" y="4378.5">depth:3</text><text x="883.5" y="4357.5">input:</text><text x="883.5" y="4385.5">output:</text><text x="998" y="4357.5">(1, 528, 14, 14)</text><text x="998" y="4385.5">(1, 32, 14, 14)</text></g>
<g id="i4e_b3b" class="n"><rect class="g" x="757" y="4443" width="316" height="56"/><path d="M844 4443v56M923 4443v56M844 4471H1073"/><text x="800.5" y="4467.5">ConvBlock</text><text x="800.5" y="4482.5">depth:3</text><text x="883.5" y="4461.5">input:</text><text x="883.5" y="4489.5">output:</text><text x="998" y="4461.5">(1, 32, 14, 14)</text><text x="998" y="4489.5">(1, 128, 14, 14)</text></g>
<g id="i4e_b4a" class="n"><rect class="g" x="1106" y="4339" width="316" height="56"/><path d="M1193 4339v56M1272 4339v56M1193 4367H1422"/><text x="1149.5" y="4363.5">MaxPool2d</text><text x="1149.5" y="4378.5">depth:3</text><text x="1232.5" y="4357.5">input:</text><text x="1232.5" y="4385.5">output:</text><text x="1347" y="4357.5">(1, 528, 14, 14)</text><text x="1347" y="4385.5">(1, 528, 14, 14)</text></g>
<g id="i4e_b4b" class="n"><rect class="g" x="1106" y="4443" width="316" height="56"/><path d="M1193 4443v56M1272 4443v56M1193 4471H1422"/><text x="1149.5" y="4467.5">ConvBlock</text><text x="1149.5" y="4482.5">depth:3</text><text x="1232.5" y="4461.5">input:</text><text x="1232.5" y="4489.5">output:</text><text x="1347" y="4461.5">(1, 528, 14, 14)</text><text x="1347" y="4489.5">(1, 128, 14, 14)</text></g>
<g id="i4e_cat" class="n"><rect class="b" x="327" y="4548" width="619" height="56"/><path d="M397 4548v56M476 4548v56M397 4576H946"/><text x="362" y="4572.5">cat</text><text x="362" y="4587.5">depth:2</text><text x="436.5" y="4566.5">input:</text><text x="436.5" y="4594.5">output:</text><text x="711" y="4566.5">(1, 256, 14, 14), (1, 320, 14, 14), 2 x (1, 128, 14, 14)</text><text x="711" y="4594.5">(1, 832, 14, 14)</text></g>
<g id="pool4" class="n"><rect class="g" x="478.5" y="4652" width="316" height="56"/><path d="M565.5 4652v56M644.5 4652v56M565.5 4680H794.5"/><text x="522" y="4676.5">MaxPool2d</text><text x="522" y="4691.5">depth:1</text><text x="605" y="4670.5">input:</text><text x="605" y="4698.5">output:</text><text x="719.5" y="4670.5">(1, 832, 14, 14)</text><text x="719.5" y="4698.5">(1, 832, 7, 7)</text></g>

<g id="i5a_conv" class="n"><rect class="g" x="79" y="4796" width="284" height="56"/><path d="M150 4796v56M229 4796v56M150 4824H363"/><text x="114.5" y="4820.5">Conv2d</text><text x="114.5" y="4835.5">depth:3</text><text x="189.5" y="4814.5">input:</text><text x="189.5" y="4842.5">output:</text><text x="296" y="4814.5">(1, 832, 7, 7)</text><text x="296" y="4842.5">(1, 256, 7, 7)</text></g>
<g id="i5a_bn" class="n"><rect class="g" x="55" y="4900" width="316" height="56"/><path d="M158 4900v56M237 4900v56M158 4928H371"/><text x="106.5" y="4924.5">BatchNorm2d</text><text x="106.5" y="4939.5">depth:3</text><text x="197.5" y="4918.5">input:</text><text x="197.5" y="4946.5">output:</text><text x="304" y="4918.5">(1, 256, 7, 7)</text><text x="304" y="4946.5">(1, 256, 7, 7)</text></g>
<g id="i5a_relu" class="n"><rect class="g" x="79" y="5004" width="284" height="56"/><path d="M150 5004v56M229 5004v56M150 5032H363"/><text x="114.5" y="5028.5">ReLU</text><text x="114.5" y="5043.5">depth:3</text><text x="189.5" y="5022.5">input:</text><text x="189.5" y="5050.5">output:</text><text x="296" y="5022.5">(1, 256, 7, 7)</text><text x="296" y="5050.5">(1, 256, 7, 7)</text></g>
<g id="i5a_b2a" class="n"><rect class="g" x="404" y="4900" width="300" height="56"/><path d="M491 4900v56M570 4900v56M491 4928H704"/><text x="447.5" y="4924.5">ConvBlock</text><text x="447.5" y="4939.5">depth:3</text><text x="530.5" y="4918.5">input:</text><text x="530.5" y="4946.5">output:</text><text x="637" y="4918.5">(1, 832, 7, 7)</text><text x="637" y="4946.5">(1, 160, 7, 7)</text></g>
<g id="i5a_b2b" class="n"><rect class="g" x="404" y="5004" width="300" height="56"/><path d="M491 5004v56M570 5004v56M491 5032H704"/><text x="447.5" y="5028.5">ConvBlock</text><text x="447.5" y="5043.5">depth:3</text><text x="530.5" y="5022.5">input:</text><text x="530.5" y="5050.5">output:</text><text x="637" y="5022.5">(1, 160, 7, 7)</text><text x="637" y="5050.5">(1, 320, 7, 7)</text></g>
<g id="i5a_b3a" class="n"><rect class="g" x="737" y="4900" width="300" height="56"/><path d="M824 4900v56M903 4900v56M824 4928H1037"/><text x="780.5" y="4924.5">ConvBlock</text><text x="780.5" y="4939.5">depth:3</text><text x="863.5" y="4918.5">input:</text><text x="863.5" y="4946.5">output:</text><text x="970" y="4918.5">(1, 832, 7, 7)</text><text x="970" y="4946.5">(1, 32, 7, 7)</text></g>
<g id="i5a_b3b" class="n"><rect class="g" x="737" y="5004" width="300" height="56"/><path d="M824 5004v56M903 5004v56M824 5032H1037"/><text x="780.5" y="5028.5">ConvBlock</text><text x="780.5" y="5043.5">depth:3</text><text x="863.5" y="5022.5">input:</text><text x="863.5" y="5050.5">output:</text><text x="970" y="5022.5">(1, 32, 7, 7)</text><text x="970" y="5050.5">(1, 128, 7, 7)</text></g>
<g id="i5a_b4a" class="n"><rect class="g" x="1071" y="4900" width="300" height="56"/><path d="M1158 4900v56M1237 4900v56M1158 4928H1371"/><text x="1114.5" y="4924.5">MaxPool2d</text><text x="1114.5" y="4939.5">depth:3</text><text x="1197.5" y="4918.5">input:</text><text x="1197.5" y="4946.5">output:</text><text x="1304" y="4918.5">(1, 832, 7, 7)</text><text x="1304" y="4946.5">(1, 832, 7, 7)</text></g>
<g id="i5a_b4b" class="n"><rect class="g" x="1071" y="5004" width="300" height="56"/><path d="M1158 5004v56M1237 5004v56M1158 5032H1371"/><text x="1114.5" y="5028.5">ConvBlock</text><text x="1114.5" y="5043.5">depth:3</text><text x="1197.5" y="5022.5">input:</text><text x="1197.5" y="5050.5">output:</text><text x="1304" y="5022.5">(1, 832, 7, 7)</text><text x="1304" y="5050.5">(1, 128, 7, 7)</text></g>
<g id="i5a_cat" class="n"><rect class="b" x="358.5" y="5109" width="571" height="56"/><path d="M428.5 5109v56M507.5 5109v56M428.5 5137H929.5"/><text x="393.5" y="5133.5">cat</text><text x="393.5" y="5148.5">depth:2</text><text x="468" y="5127.5">input:</text><text x="468" y="5155.5">output:</text><text x="718.5" y="5127.5">(1, 256, 7, 7), (1, 320, 7, 7), 2 x (1, 128, 7, 7)</text><text x="718.5" y="5155.5">(1, 832, 7, 7)</text></g>

<g id="i5b_conv" class="n"><rect class="g" x="69" y="5264" width="284" height="56"/><path d="M140 5264v56M219 5264v56M140 5292H353"/><text x="104.5" y="5288.5">Conv2d</text><text x="104.5" y="5303.5">depth:3</text><text x="179.5" y="5282.5">input:</text><text x="179.5" y="5310.5">output:</text><text x="286" y="5282.5">(1, 832, 7, 7)</text><text x="286" y="5310.5">(1, 384, 7, 7)</text></g>
<g id="i5b_bn" class="n"><rect class="g" x="45" y="5368" width="316" height="56"/><path d="M148 5368v56M227 5368v56M148 5396H361"/><text x="96.5" y="5392.5">BatchNorm2d</text><text x="96.5" y="5407.5">depth:3</text><text x="187.5" y="5386.5">input:</text><text x="187.5" y="5414.5">output:</text><text x="294" y="5386.5">(1, 384, 7, 7)</text><text x="294" y="5414.5">(1, 384, 7, 7)</text></g>
<g id="i5b_relu" class="n"><rect class="g" x="69" y="5472" width="284" height="56"/><path d="M140 5472v56M219 5472v56M140 5500H353"/><text x="104.5" y="5496.5">ReLU</text><text x="104.5" y="5511.5">depth:3</text><text x="179.5" y="5490.5">input:</text><text x="179.5" y="5518.5">output:</text><text x="286" y="5490.5">(1, 384, 7, 7)</text><text x="286" y="5518.5">(1, 384, 7, 7)</text></g>
<g id="i5b_b2a" class="n"><rect class="g" x="394" y="5368" width="300" height="56"/><path d="M481 5368v56M560 5368v56M481 5396H694"/><text x="437.5" y="5392.5">ConvBlock</text><text x="437.5" y="5407.5">depth:3</text><text x="520.5" y="5386.5">input:</text><text x="520.5" y="5414.5">output:</text><text x="627" y="5386.5">(1, 832, 7, 7)</text><text x="627" y="5414.5">(1, 192, 7, 7)</text></g>
<g id="i5b_b2b" class="n"><rect class="g" x="394" y="5472" width="300" height="56"/><path d="M481 5472v56M560 5472v56M481 5500H694"/><text x="437.5" y="5496.5">ConvBlock</text><text x="437.5" y="5511.5">depth:3</text><text x="520.5" y="5490.5">input:</text><text x="520.5" y="5518.5">output:</text><text x="627" y="5490.5">(1, 192, 7, 7)</text><text x="627" y="5518.5">(1, 384, 7, 7)</text></g>
<g id="i5b_b3a" class="n"><rect class="g" x="728" y="5368" width="300" height="56"/><path d="M815 5368v56M894 5368v56M815 5396H1028"/><text x="771.5" y="5392.5">ConvBlock</text><text x="771.5" y="5407.5">depth:3</text><text x="854.5" y="5386.5">input:</text><text x="854.5" y="5414.5">output:</text><text x="961" y="5386.5">(1, 832, 7, 7)</text><text x="961" y="5414.5">(1, 48, 7, 7)</text></g>
<g id="i5b_b3b" class="n"><rect class="g" x="728" y="5472" width="300" height="56"/><path d="M815 5472v56M894 5472v56M815 5500H1028"/><text x="771.5" y="5496.5">ConvBlock</text><text x="771.5" y="5511.5">depth:3</text><text x="854.5" y="5490.5">input:</text><text x="854.5" y="5518.5">output:</text><text x="961" y="5490.5">(1, 48, 7, 7)</text><text x="961" y="5518.5">(1, 128, 7, 7)</text></g>
<g id="i5b_b4a" class="n"><rect class="g" x="1061" y="5368" width="300" height="56"/><path d="M1148 5368v56M1227 5368v56M1148 5396H1361"/><text x="1104.5" y="5392.5">MaxPool2d</text><text x="1104.5" y="5407.5">depth:3</text><text x="1187.5" y="5386.5">input:</text><text x="1187.5" y="5414.5">output:</text><text x="1294" y="5386.5">(1, 832, 7, 7)</text><text x="1294" y="5414.5">(1, 832, 7, 7)</text></g>
<g id="i5b_b4b" class="n"><rect class="g" x="1061" y="5472" width="300" height="56"/><path d="M1148 5472v56M1227 5472v56M1148 5500H1361"/><text x="1104.5" y="5496.5">ConvBlock</text><text x="1104.5" y="5511.5">depth:3</text><text x="1187.5" y="5490.5">input:</text><text x="1187.5" y="5518.5">output:</text><text x="1294" y="5490.5">(1, 832, 7, 7)</text><text x="1294" y="5518.5">(1, 128, 7, 7)</text></g>
<g id="i5b_cat" class="n"><rect class="b" x="473" y="5577" width="475" height="56"/><path d="M543 5577v56M622 5577v56M543 5605H948"/><text x="508" y="5601.5">cat</text><text x="508" y="5616.5">depth:2</text><text x="582.5" y="5595.5">input:</text><text x="582.5" y="5623.5">output:</text><text x="785" y="5595.5">2 x (1, 384, 7, 7), 2 x (1, 128, 7, 7)</text><text x="785" y="5623.5">(1, 1024, 7, 7)</text></g>

<g id="avgpool" class="n"><rect class="g" x="557" y="5681" width="308" height="56"/><path d="M644 5681v56M723 5681v56M644 5709H865"/><text x="600.5" y="5705.5">AvgPool2d</text><text x="600.5" y="5720.5">depth:1</text><text x="683.5" y="5699.5">input:</text><text x="683.5" y="5727.5">output:</text><text x="794" y="5699.5">(1, 1024, 7, 7)</text><text x="794" y="5727.5">(1, 1024, 1, 1)</text></g>
<g id="dropout" class="n"><rect class="g" x="565" y="5785" width="292" height="56"/><path d="M636 5785v56M715 5785v56M636 5813H857"/><text x="600.5" y="5809.5">Dropout</text><text x="600.5" y="5824.5">depth:1</text><text x="675.5" y="5803.5">input:</text><text x="675.5" y="5831.5">output:</text><text x="786" y="5803.5">(1, 1024, 1, 1)</text><text x="786" y="5831.5">(1, 1024, 1, 1)</text></g>
<g id="flatten" class="n"><rect class="b" x="565" y="5889" width="292" height="56"/><path d="M636 5889v56M715 5889v56M636 5917H857"/><text x="600.5" y="5913.5">flatten</text><text x="600.5" y="5928.5">depth:1</text><text x="675.5" y="5907.5">input:</text><text x="675.5" y="5935.5">output:</text><text x="786" y="5907.5">(1, 1024, 1, 1)</text><text x="786" y="5935.5">(1, 1024)</text></g>
<g id="linear" class="n"><rect class="g" x="589" y="5993" width="244" height="56"/><path d="M660 5993v56M739 5993v56M660 6021H833"/><text x="624.5" y="6017.5">Linear</text><text x="624.5" y="6032.5">depth:1</text><text x="699.5" y="6011.5">input:</text><text x="699.5" y="6039.5">output:</text><text x="786" y="6011.5">(1, 1024)</text><text x="786" y="6039.5">(1, 1000)</text></g>
<g id="output_tensor" class="n"><rect class="y" x="608" y="6097" width="205" height="43"/><path d="M727 6097v43"/><text x="667.5" y="6115.5">output-tensor</text><text x="667.5" y="6129.5">depth:0</text><text x="770" y="6123">(1, 1000)</text></g>
</g>
<g id="edges">
<path d="M743 48V97"/><path d="M743 153V201"/><path d="M743 257V305"/><path d="M743 361V409"/><path d="M743 465V553"/><path d="M743 609V657"/><path d="M743 713V761"/><path d="M743 817V877"/><path d="M743 933V981"/><path d="M743 1037V1085"/><path d="M743 1141V1190"/>
<path d="M641 1246L322 1334"/><path d="M723 1246L588 1438"/><path d="M763 1246L898 1438"/><path d="M811 1246L1210 1438"/>
<path d="M219 1390L216 1438"/><path d="M217 1494L221 1542"/><path d="M568 1494V1542"/><path d="M917 1494L915 1542"/><path d="M1267 1494V1542"/>
<path d="M343 1598L597 1647"/><path d="M620 1598L707 1647"/><path d="M873 1598L803 1647"/><path d="M1142 1598L904 1647"/>
<path d="M666 1703L331 1802"/><path d="M741 1703L605 1906"/><path d="M779 1703L916 1906"/><path d="M813 1703L1225 1906"/>
<path d="M234 1858L230 1906"/><path d="M230 1962L234 2010"/><path d="M585 1962V2010"/><path d="M934 1962L933 2010"/><path d="M1284 1962V2010"/>
<path d="M330 2066L493 2115"/><path d="M586 2066L588 2115"/><path d="M840 2066L682 2115"/><path d="M1163 2066L845 2115"/>
<path d="M588.5 2171V2219"/>
<path d="M519 2275L303 2363"/><path d="M587 2275L581 2467"/><path d="M627 2275L890 2467"/><path d="M714 2275L1215 2467"/>
<path d="M229 2419L225 2467"/><path d="M225 2523L229 2571"/><path d="M580 2523V2571"/><path d="M929 2523L928 2571"/><path d="M1279 2523V2571"/>
<path d="M324 2627L489 2676"/><path d="M580 2627L582 2676"/><path d="M835 2627L676 2676"/><path d="M1159 2627L838 2676"/>
<path d="M518 2732L291 2831"/><path d="M582 2732L575 2935"/><path d="M620 2732L885 2935"/><path d="M686 2732L1203 2935"/>
<path d="M222.5 2887L218.5 2935"/><path d="M218.5 2991L222.5 3039"/><path d="M574 2991V3039"/><path d="M922 2991L921 3039"/><path d="M1273 2991V3039"/>
<path d="M319 3095L478 3144"/><path d="M574 3095L576 3144"/><path d="M828 3095L676 3144"/><path d="M1153 3095L837 3144"/>
<path d="M511 3200L280 3299"/><path d="M575 3200L563 3403"/><path d="M612 3200L871 3403"/><path d="M676 3200L1195 3403"/>
<path d="M211 3355L207 3403"/><path d="M207 3459L211 3507"/><path d="M562 3459V3507"/><path d="M910 3459L909 3507"/><path d="M1261 3459V3507"/>
<path d="M329 3563L535 3612"/><path d="M587 3563L628 3612"/><path d="M841 3563L730 3612"/><path d="M1140 3563L866 3612"/>
<path d="M579 3668L302 3767"/><path d="M648 3668L582 3871"/><path d="M686 3668L891 3871"/><path d="M757 3668L1207 3871"/>
<path d="M221 3823L217 3871"/><path d="M217 3927L221 3975"/><path d="M573 3927V3975"/><path d="M920.5 3927L919.5 3975"/><path d="M1271 3927V3975"/>
<path d="M321 4031L474 4080"/><path d="M574 4031L576 4080"/><path d="M829 4031L678 4080"/><path d="M1151 4031L833 4080"/>
<path d="M514 4136L283 4235"/><path d="M578 4136L567 4339"/><path d="M616 4136L879 4339"/><path d="M676 4136L1201 4339"/>
<path d="M214.5 4291L210.5 4339"/><path d="M210.5 4395L214.5 4443"/><path d="M566 4395V4443"/><path d="M915 4395V4443"/><path d="M1264 4395V4443"/>
<path d="M327 4499L522 4548"/><path d="M585 4499L615 4548"/><path d="M840 4499L714 4548"/><path d="M1144 4499L854 4548"/>
<path d="M636.5 4604V4652"/>
<path d="M556 4708L301 4796"/><path d="M627 4708L564 4900"/><path d="M664 4708L858 4900"/><path d="M750 4708L1159 4900"/>
<path d="M218.5 4852L215 4900"/><path d="M215 4956L218.5 5004"/><path d="M554 4956V5004"/><path d="M887 4956V5004"/><path d="M1221 4956V5004"/>
<path d="M334 5060L530 5109"/><path d="M578 5060L618 5109"/><path d="M822 5060L710 5109"/><path d="M1104 5060L835 5109"/>
<path d="M566 5165L290 5264"/><path d="M633 5165L556 5368"/><path d="M669 5165L853 5368"/><path d="M717 5165L1152 5368"/>
<path d="M209 5320L205 5368"/><path d="M205 5424L209 5472"/><path d="M544 5424V5472"/><path d="M878 5424V5472"/><path d="M1211 5424V5472"/>
<path d="M328 5528L564 5577"/><path d="M588 5528L663 5577"/><path d="M832 5528L758 5577"/><path d="M1092 5528L859 5577"/>
<path d="M711 5633V5681"/><path d="M711 5737V5785"/><path d="M711 5841V5889"/><path d="M711 5945V5993"/><path d="M711 6049V6097"/>
</g>
</svg>
